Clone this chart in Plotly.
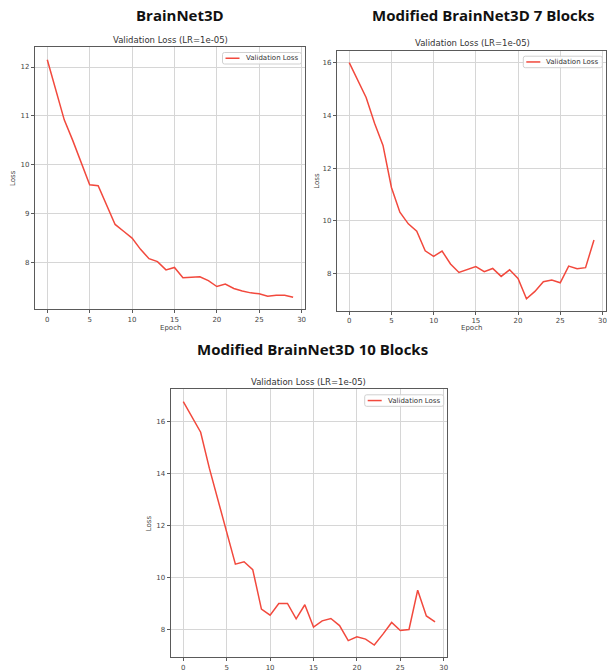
import plotly.graph_objects as go

W, H = 607, 672

epochs = list(range(30))

loss_base = [12.15, 11.53, 10.92, 10.50, 10.05, 9.59, 9.57, 9.17, 8.78, 8.64,
             8.50, 8.27, 8.08, 8.02, 7.85, 7.90, 7.69, 7.70, 7.71, 7.63,
             7.51, 7.56, 7.47, 7.42, 7.38, 7.36, 7.31, 7.33, 7.33, 7.29]

loss_7blocks = [16.00, 15.35, 14.68, 13.70, 12.86, 11.27, 10.33, 9.89, 9.61, 8.87,
                8.66, 8.86, 8.37, 8.05, 8.16, 8.27, 8.08, 8.20, 7.90, 8.15,
                7.82, 7.05, 7.33, 7.70, 7.76, 7.66, 8.29, 8.19, 8.23, 9.28]

loss_10blocks = [16.76, 16.18, 15.58, 14.20, 12.95, 11.70, 10.51, 10.60, 10.30, 8.78,
                 8.55, 9.00, 9.00, 8.41, 8.95, 8.09, 8.33, 8.42, 8.15, 7.57,
                 7.72, 7.63, 7.40, 7.82, 8.27, 7.96, 8.00, 9.51, 8.52, 8.29]

headings = ["BrainNet3D", "Modified BrainNet3D 7 Blocks", "Modified BrainNet3D 10 Blocks"]
subtitle = "Validation Loss (LR=1e-05)"
legend_label = "Validation Loss"

LINE_RED = "#f2493d"
GRID = "#d6d6d6"
SPINE = "#5a5a5a"
TICK_FONT = dict(family="DejaVu Sans", size=7, color="#444")

# panel boxes in pixels: (left, right, top, bottom), y ranges, y tick step
panels = [
    dict(box=(35, 305, 47, 309), yr=[7.05, 12.41], dy=1, series=loss_base,
         head_xy=(180, 15), sub_xy=(170, 40), ylab_x=13, xlab_y=328),
    dict(box=(337, 605.8, 50.7, 310.7), yr=[6.6, 16.45], dy=2, series=loss_7blocks,
         head_xy=(483, 15), sub_xy=(472, 42.5), ylab_x=317, xlab_y=328),
    dict(box=(170.7, 447.2, 389.3, 657.3), yr=[6.93, 17.23], dy=2, series=loss_10blocks,
         head_xy=(312, 349), sub_xy=(308.5, 381.5), ylab_x=149, xlab_y=None),
]


def px_x(v):
    return v / W


def px_y(v):
    return 1 - v / H


fig = go.Figure()
annotations = []
shapes = []
layout_axes = {}

for i, p in enumerate(panels, start=1):
    l, r, t, b = p["box"]
    xa = "x" if i == 1 else f"x{i}"
    ya = "y" if i == 1 else f"y{i}"
    fig.add_trace(go.Scatter(
        x=epochs, y=p["series"], mode="lines", name=legend_label,
        line=dict(color=LINE_RED, width=1.5), xaxis=xa, yaxis=ya,
        showlegend=False,
    ))
    axis_common = dict(
        showgrid=True, gridcolor=GRID, gridwidth=1, zeroline=False,
        showline=True, linecolor=SPINE, linewidth=1.2, mirror=True,
        ticks="outside", ticklen=3, tickcolor=SPINE, tickwidth=1,
        tickfont=TICK_FONT, ticklabeloverflow="allow",
    )
    layout_axes["xaxis" if i == 1 else f"xaxis{i}"] = dict(
        axis_common, domain=[px_x(l), px_x(r)], range=[-1.45, 30.4],
        tick0=0, dtick=5, anchor=ya,
    )
    layout_axes["yaxis" if i == 1 else f"yaxis{i}"] = dict(
        axis_common, domain=[px_y(b), px_y(t)], range=p["yr"],
        tick0=0, dtick=p["dy"], anchor=xa,
    )

    hx, hy = p["head_xy"]
    annotations.append(dict(
        text=f"<b>{headings[i - 1]}</b>", x=px_x(hx), y=px_y(hy),
        xref="paper", yref="paper", showarrow=False,
        xanchor="center", yanchor="middle",
        font=dict(family="Open Sans", size=15, color="#111"),
    ))
    sx, sy = p["sub_xy"]
    annotations.append(dict(
        text=subtitle, x=px_x(sx), y=px_y(sy), xref="paper", yref="paper",
        showarrow=False, xanchor="center", yanchor="middle",
        font=dict(family="DejaVu Sans", size=8.5, color="#333"),
    ))
    annotations.append(dict(
        text="Loss", x=px_x(p["ylab_x"]), y=px_y((t + b) / 2),
        xref="paper", yref="paper", showarrow=False, textangle=-90,
        xanchor="center", yanchor="middle", font=TICK_FONT,
    ))
    if p["xlab_y"] is not None:
        annotations.append(dict(
            text="Epoch", x=px_x((l + r) / 2), y=px_y(p["xlab_y"]),
            xref="paper", yref="paper", showarrow=False,
            xanchor="center", yanchor="middle", font=TICK_FONT,
        ))

    # legend box in the upper-right corner of each panel
    lx1 = min(r, 606) - 3.5
    lx0 = lx1 - 79
    ly0 = t + 5.5
    ly1 = ly0 + 11.5
    rad = 2
    path = (f"M {px_x(lx0 + rad)},{px_y(ly0)} L {px_x(lx1 - rad)},{px_y(ly0)} "
            f"Q {px_x(lx1)},{px_y(ly0)} {px_x(lx1)},{px_y(ly0 + rad)} "
            f"L {px_x(lx1)},{px_y(ly1 - rad)} "
            f"Q {px_x(lx1)},{px_y(ly1)} {px_x(lx1 - rad)},{px_y(ly1)} "
            f"L {px_x(lx0 + rad)},{px_y(ly1)} "
            f"Q {px_x(lx0)},{px_y(ly1)} {px_x(lx0)},{px_y(ly1 - rad)} "
            f"L {px_x(lx0)},{px_y(ly0 + rad)} "
            f"Q {px_x(lx0)},{px_y(ly0)} {px_x(lx0 + rad)},{px_y(ly0)} Z")
    shapes.append(dict(type="path", path=path, xref="paper", yref="paper",
                       fillcolor="rgba(255,255,255,0.85)",
                       line=dict(color="#d0d0d0", width=1)))
    cy = (ly0 + ly1) / 2
    shapes.append(dict(type="line", xref="paper", yref="paper",
                       x0=px_x(lx0 + 3), x1=px_x(lx0 + 17), y0=px_y(cy), y1=px_y(cy),
                       line=dict(color=LINE_RED, width=1.5)))
    annotations.append(dict(
        text=legend_label, x=px_x(lx0 + 21), y=px_y(cy), xref="paper", yref="paper",
        showarrow=False, xanchor="left", yanchor="middle",
        font=dict(family="DejaVu Sans", size=7, color="#333"),
    ))

fig.update_layout(
    width=W, height=H, margin=dict(l=0, r=0, t=0, b=0),
    paper_bgcolor="white", plot_bgcolor="white",
    annotations=annotations, shapes=shapes, showlegend=False,
    **layout_axes,
)

fig.write_html("out.html")
